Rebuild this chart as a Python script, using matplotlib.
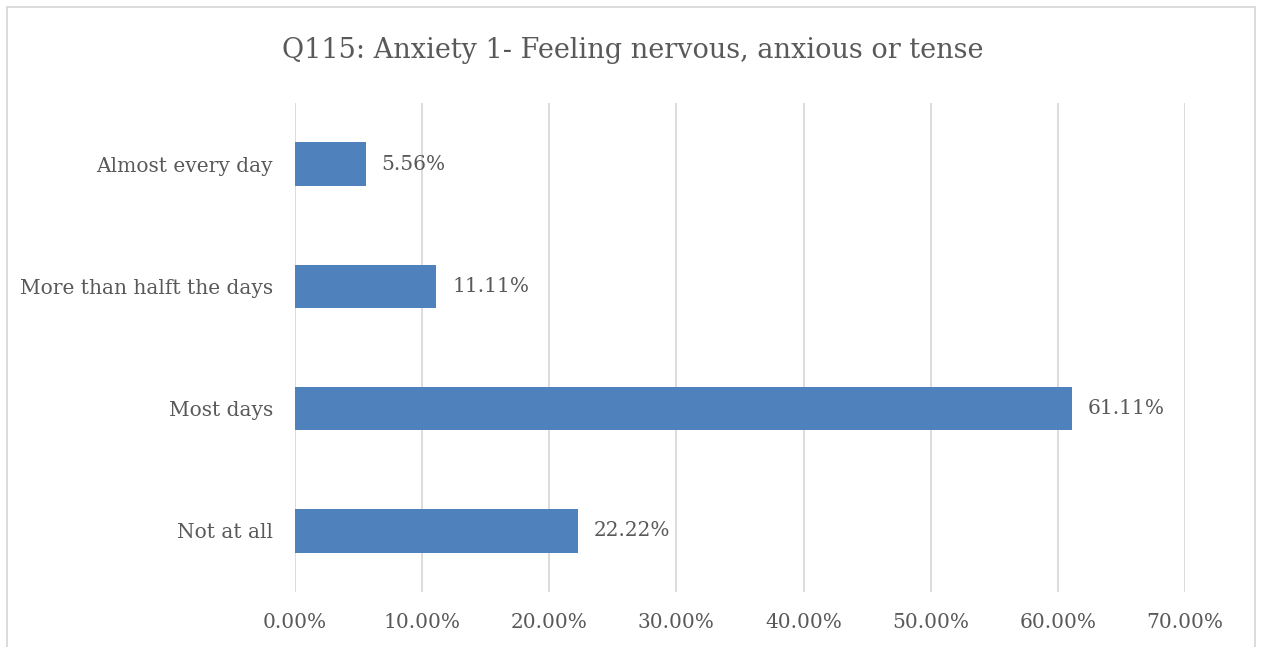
import matplotlib
matplotlib.use("Agg")
import matplotlib.pyplot as plt
from matplotlib.patches import Rectangle
from matplotlib.ticker import FuncFormatter

# Survey responses, Q115
categories = ["Not at all", "Most days", "More than halft the days", "Almost every day"]
percentages = [22.22, 61.11, 11.11, 5.56]
x_ticks = [0, 10, 20, 30, 40, 50, 60, 70]

TEXT = "#595959"
BAR = "#4F81BD"
GRID = "#D9D9D9"
FONT = ["DejaVu Serif"]

fig = plt.figure(figsize=(12.61, 6.47), dpi=100)
W, H = 1261, 647

# chart frame
fig.patches.append(Rectangle((7 / W, -0.01), (1255 - 7) / W, (647 - 7) / H + 0.01,
                             transform=fig.transFigure, fill=False,
                             edgecolor=GRID, linewidth=1.3))

ax = fig.add_axes([295 / W, (647 - 592) / H, (1185 - 295) / W, (592 - 103) / H])
y = range(len(categories))
ax.barh(y, percentages, height=0.355, color=BAR, zorder=3)

ax.set_xlim(0, 70)
ax.set_ylim(-0.5, len(categories) - 0.5)
ax.set_xticks(x_ticks)
ax.xaxis.set_major_formatter(FuncFormatter(lambda v, _: f"{v:.2f}%"))
ax.set_yticks(list(y))
ax.set_yticklabels(categories)
ax.grid(axis="x", color=GRID, linewidth=1.3, zorder=0)
ax.tick_params(length=0, labelsize=14.5, labelcolor=TEXT)
ax.tick_params(axis="y", pad=16)
ax.tick_params(axis="x", pad=15)
for lab in ax.get_xticklabels() + ax.get_yticklabels():
    lab.set_family(FONT)
for s in ax.spines.values():
    s.set_visible(False)

for yi, v in zip(y, percentages):
    ax.text(v + 1.25, yi, f"{v:.2f}%", va="center", ha="left",
            fontsize=14.5, color=TEXT, family=FONT)

fig.text(633 / W, 1 - 50 / H, "Q115: Anxiety 1- Feeling nervous, anxious or tense",
         ha="center", va="center", fontsize=19.5, color=TEXT, family=FONT)

fig.savefig("out.png", dpi=100)
